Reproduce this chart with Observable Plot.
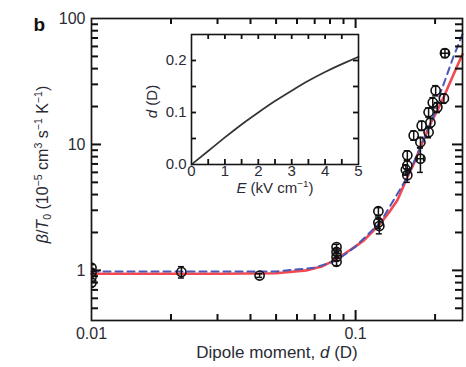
<!DOCTYPE html>
<html><head><meta charset="utf-8">
<script src="https://cdn.jsdelivr.net/npm/d3@7"></script>
<script src="https://cdn.jsdelivr.net/npm/@observablehq/plot@0.6"></script>
<style>
html,body{margin:0;padding:0;background:#fff;}
#wrap{position:relative;width:466px;height:367px;overflow:hidden;background:#fff;}
#main{position:absolute;left:0;top:0;}
#inset{position:absolute;left:131px;top:26px;}
</style></head>
<body><div id="wrap"><div id="main"></div><div id="inset"></div></div>
<script>
// ---- measured data points (dipole moment d in Debye, beta/T0 in 1e-5 cm3 s-1 K-1)
const dipole   = [0.01, 0.01, 0.01, 0.01, 0.0219, 0.0433, 0.0847, 0.0847, 0.0847, 0.0847, 0.122, 0.122, 0.123, 0.157, 0.157, 0.157, 0.155, 0.166, 0.176, 0.176, 0.178, 0.189, 0.189, 0.192, 0.196, 0.201, 0.204, 0.216, 0.218];
const rate     = [1.05, 0.96, 0.88, 0.80, 0.97, 0.91, 1.53, 1.40, 1.28, 1.17, 2.95, 2.40, 2.25, 8.2, 6.8, 5.7, 6.3, 11.8, 7.7, 10.4, 14.1, 12.5, 18.0, 14.9, 21.5, 26.8, 19.7, 23.2, 53.0];
const rateErr  = [0.06, 0.06, 0.06, 0.06, 0.10, 0.03, 0.08, 0.08, 0.08, 0.08, 0.20, 0.25, 0.30, 0.7, 0.7, 0.7, 0.6, 1.0, 1.7, 1.0, 1.2, 1.2, 1.5, 1.2, 2.0, 2.5, 1.8, 2.0, 4.0];
const dipoleErr= [0, 0, 0, 0, 0, 0, 0, 0, 0, 0, 0, 0, 0, 0, 0, 0, 0, 0, 0.005, 0, 0, 0, 0, 0, 0, 0, 0, 0, 0.007];

// ---- theory curves
const fitDipole = [0.01, 0.03, 0.05, 0.065, 0.075, 0.083, 0.092, 0.1, 0.1075, 0.115, 0.124, 0.134, 0.144, 0.157, 0.166, 0.176, 0.192, 0.205, 0.216, 0.23, 0.245, 0.254];
const fitRed    = [0.94, 0.94, 0.95, 1.0, 1.08, 1.2, 1.38, 1.55, 1.73, 2.0, 2.35, 2.9, 3.6, 5.5, 7.0, 9.5, 14.6, 19.0, 24.0, 32.5, 44.0, 52.0];
const fitBlueDipole = [0.01, 0.05, 0.07, 0.085, 0.1, 0.124, 0.157, 0.176, 0.2, 0.21, 0.22, 0.235, 0.254];
const fitBlue       = [0.98, 0.98, 1.05, 1.2, 1.55, 2.4, 5.5, 9.5, 18.0, 26.0, 34.0, 50.0, 75.0];

// ---- inset: induced dipole moment vs electric field
const field   = [0, 0.5, 1, 1.5, 2, 2.5, 3, 3.5, 4, 4.5, 5];
const induced = [0, 0.026, 0.052, 0.077, 0.100, 0.122, 0.142, 0.161, 0.178, 0.193, 0.207];

// ---- ticks / labels
const xMajor = [0.01, 0.1];
const xMajorLabels = ["0.01", "0.1"];
const xMajorTicks = [0.1];
const xMinor = [0.02, 0.03, 0.04, 0.05, 0.06, 0.07, 0.08, 0.09, 0.2];
const yMajor = [1, 10, 100];
const yMajorLabels = ["1", "10", "100"];
const yMajorTicks = [1, 10];
const yMinor = [0.5, 0.6, 0.7, 0.8, 0.9, 2, 3, 4, 5, 6, 7, 8, 9, 20, 30, 40, 50, 60, 70, 80, 90];
const eTicks = [0.5, 1, 1.5, 2, 2.5, 3, 3.5, 4, 4.5];
const eLabels = [0, 1, 2, 3, 4, 5];
const dTicks = [0.05, 0.1, 0.15, 0.2];
const dLabels = [0, 0.1, 0.2];

const panelLabel = "b";
const xTitle = "Dipole moment, d (D)";
const yTitle = "β/T0 (10-5 cm3 s-1 K-1)";
const insetXTitle = "E (kV cm-1)";
const insetYTitle = "d (D)";

// ---- geometry
const W = 466, H = 367, mL = 91, mR = 4, mT = 18, mB = 47;
const xDom = [0.01, 0.254], yDom = [0.4, 100];
const fw = W - mL - mR, fh = H - mT - mB;
// data-space factor corresponding to a pixel length on the log scales
const fx = px => Math.pow(xDom[1] / xDom[0], px / fw);
const fy = px => Math.pow(yDom[1] / yDom[0], px / fh);

// ---- tables
const pts = dipole.map((d, i) => ({d, v: rate[i], lo: rate[i] - rateErr[i], hi: rate[i] + rateErr[i], dl: d - dipoleErr[i], dh: d + dipoleErr[i], xe: dipoleErr[i] > 0}));
const caps = pts.flatMap(p => [{v: p.lo, a: p.d / fx(3), b: p.d * fx(3)}, {v: p.hi, a: p.d / fx(3), b: p.d * fx(3)}]);
const xcaps = pts.filter(p => p.xe).flatMap(p => [{d: p.dl, a: p.v / fy(3), b: p.v * fy(3)}, {d: p.dh, a: p.v / fy(3), b: p.v * fy(3)}]);
const red = fitDipole.map((d, i) => ({d, v: fitRed[i]}));
const blue = fitBlueDipole.map((d, i) => ({d, v: fitBlue[i]}));
const insetCurve = field.map((E, i) => ({E, d: induced[i]}));

const txt = "#2b2b35";
const font = "'Liberation Sans', Arial, Helvetica, sans-serif";

const main = Plot.plot({
  width: W, height: H, marginLeft: mL, marginRight: mR, marginTop: mT, marginBottom: mB,
  x: {type: "log", domain: xDom, label: null},
  y: {type: "log", domain: yDom, label: null},
  style: {fontFamily: font, fontSize: "16px", color: txt, background: "transparent", overflow: "visible"},
  marks: [
    Plot.line(red, {x: "d", y: "v", stroke: "#f2343c", strokeWidth: 2.6, strokeOpacity: 0.9}),
    Plot.line(blue, {x: "d", y: "v", stroke: "#4a58b8", strokeWidth: 2, strokeDasharray: "7,5"}),
    Plot.ruleX(pts, {x: "d", y1: "lo", y2: "hi", stroke: "#111", strokeWidth: 1.5, clip: true}),
    Plot.ruleY(pts.filter(p => p.xe), {y: "v", x1: "dl", x2: "dh", stroke: "#111", strokeWidth: 1.5, clip: true}),
    Plot.ruleY(caps, {y: "v", x1: "a", x2: "b", stroke: "#111", strokeWidth: 1.5, clip: true}),
    Plot.ruleX(xcaps, {x: "d", y1: "a", y2: "b", stroke: "#111", strokeWidth: 1.5, clip: true}),
    Plot.dot(pts, {x: "d", y: "v", r: 4.6, stroke: "#111", strokeWidth: 1.6, fill: "none", clip: true}),
    // inward ticks on all four sides
    Plot.ruleX(xMajorTicks, {x: d => d, y1: yDom[0], y2: yDom[0] * fy(10), stroke: "#111", strokeWidth: 2}),
    Plot.ruleX(xMinor, {x: d => d, y1: yDom[0], y2: yDom[0] * fy(6), stroke: "#111", strokeWidth: 2}),
    Plot.ruleX(xMajorTicks, {x: d => d, y1: yDom[1] / fy(10), y2: yDom[1], stroke: "#111", strokeWidth: 2}),
    Plot.ruleX(xMinor, {x: d => d, y1: yDom[1] / fy(6), y2: yDom[1], stroke: "#111", strokeWidth: 2}),
    Plot.ruleY(yMajorTicks, {y: d => d, x1: xDom[0], x2: xDom[0] * fx(10), stroke: "#111", strokeWidth: 2}),
    Plot.ruleY(yMinor, {y: d => d, x1: xDom[0], x2: xDom[0] * fx(7), stroke: "#111", strokeWidth: 2}),
    Plot.ruleY(yMajorTicks, {y: d => d, x1: xDom[1] / fx(10), x2: xDom[1], stroke: "#111", strokeWidth: 2}),
    Plot.ruleY(yMinor, {y: d => d, x1: xDom[1] / fx(7), x2: xDom[1], stroke: "#111", strokeWidth: 2}),
    Plot.frame({stroke: "#161616", strokeWidth: 1.7}),
    Plot.axisX({ticks: xMajor, tickSize: 0, tickPadding: 7, tickFormat: d => xMajorLabels[xMajor.indexOf(d)], fontSize: 16, fill: txt, label: null}),
    Plot.axisY({ticks: yMajor, tickSize: 0, tickPadding: 6, tickFormat: d => yMajorLabels[yMajor.indexOf(d)], fontSize: 16, fill: txt, label: null}),
    Plot.text([xTitle], {frameAnchor: "bottom", textAnchor: "middle", dy: 37, fontSize: 17, fill: txt}),
    Plot.text([yTitle], {frameAnchor: "left", textAnchor: "middle", dx: -49, dy: -5, rotate: -90, fontSize: 16, fill: txt}),
    Plot.text([panelLabel], {frameAnchor: "top-left", dx: -58, dy: -1, textAnchor: "start", fontSize: 19, fontWeight: "bold", fill: "#111"})
  ]
});
document.getElementById("main").appendChild(main);

const iW = 235, iH = 174, iL = 60, iR = 8, iT = 8, iB = 36;
const eDom = [0, 5], dDom = [0, 0.25];
const ifw = iW - iL - iR, ifh = iH - iT - iB;
const ex = px => px * (eDom[1] - eDom[0]) / ifw;
const dpx = px => px * (dDom[1] - dDom[0]) / ifh;
const inset = Plot.plot({
  width: iW, height: iH, marginLeft: iL, marginRight: iR, marginTop: iT, marginBottom: iB,
  x: {domain: eDom, label: null}, y: {domain: dDom, label: null},
  style: {fontFamily: font, fontSize: "15px", color: txt, background: "transparent", overflow: "visible"},
  marks: [
    Plot.line(insetCurve, {x: "E", y: "d", stroke: "#333", strokeWidth: 1.7, curve: "natural"}),
    Plot.ruleX(eTicks, {x: d => d, y1: dDom[0], y2: dDom[0] + dpx(5), stroke: "#111", strokeWidth: 1.8}),
    Plot.ruleX(eTicks, {x: d => d, y1: dDom[1] - dpx(5), y2: dDom[1], stroke: "#111", strokeWidth: 1.8}),
    Plot.ruleY(dTicks, {y: d => d, x1: eDom[0], x2: eDom[0] + ex(5), stroke: "#111", strokeWidth: 1.8}),
    Plot.ruleY(dTicks, {y: d => d, x1: eDom[1] - ex(5), x2: eDom[1], stroke: "#111", strokeWidth: 1.8}),
    Plot.frame({stroke: "#161616", strokeWidth: 1.6}),
    Plot.axisX({ticks: eLabels, tickSize: 0, tickPadding: 1, tickFormat: d => String(d), fontSize: 15, fill: txt, label: null}),
    Plot.axisY({ticks: dLabels, tickSize: 0, tickPadding: 5, tickFormat: d => d.toFixed(1), fontSize: 15, fill: txt, label: null}),
    Plot.text([insetXTitle], {frameAnchor: "bottom", textAnchor: "middle", dy: 28, fontSize: 15, fill: txt}),
    Plot.text([insetYTitle], {frameAnchor: "left", textAnchor: "middle", dx: -39, dy: 2, rotate: -90, fontSize: 15, fill: txt})
  ]
});
document.getElementById("inset").appendChild(inset);

// rich text (italics, super/subscripts) for titles
function rich(svg, key, parts, fs) {
  d3.select(svg).selectAll("text").filter(function() { return this.textContent === key; }).each(function() {
    const t = d3.select(this); t.text(null);
    let shift = 0;
    for (const [s, f] of parts) {
      const ts = t.append("tspan").text(s);
      const target = f === "sup" ? -0.38 * fs : f === "sub" ? 0.22 * fs : 0;
      if (target !== shift) { ts.attr("dy", target - shift); shift = target; }
      if (f === "sup" || f === "sub") ts.attr("font-size", 0.66 * fs);
      if (f === "i") ts.attr("font-style", "italic");
    }
  });
}
rich(main, yTitle, [["β", "i"], ["/", ""], ["T", "i"], ["0", "sub"], [" (10", ""], ["−5", "sup"], [" cm", ""], ["3", "sup"], [" s", ""], ["−1", "sup"], [" K", ""], ["−1", "sup"], [")", ""]], 16);
rich(main, xTitle, [["Dipole moment, ", ""], ["d", "i"], [" (D)", ""]], 17);
rich(inset, insetXTitle, [["E", "i"], [" (kV cm", ""], ["−1", "sup"], [")", ""]], 15);
rich(inset, insetYTitle, [["d", "i"], [" (D)", ""]], 15);
</script>
</body></html>
